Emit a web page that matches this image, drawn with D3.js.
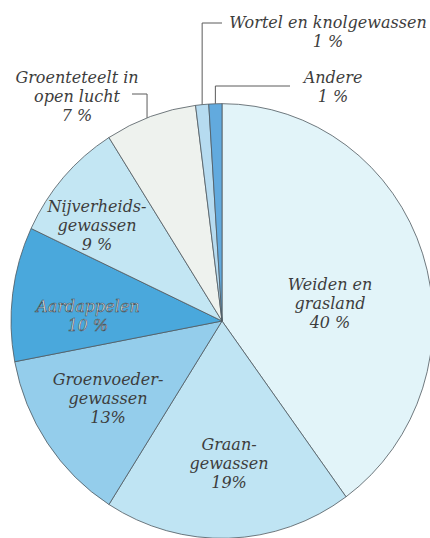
<!DOCTYPE html>
<html>
<head>
<meta charset="utf-8">
<script src="https://cdn.jsdelivr.net/npm/d3@7"></script>
<style>
  body { margin: 0; background: #fff; }
  svg text { font-family: "DejaVu Serif", serif; font-style: italic; fill: #3d3d3d; }
</style>
</head>
<body>
<svg id="grafico" width="430" height="538"></svg>
<script>
// gegevens (aandeel in %)
let categorieen = ['Weiden en grasland', 'Graangewassen', 'Groenvoedergewassen', 'Aardappelen',
  'Nijverheidsgewassen', 'Groenteteelt in open lucht', 'Wortel en knolgewassen', 'Andere'];
let waarden = [40, 19, 13, 10, 9, 7, 1, 1];
let kleuren = ['#e2f4f9', '#bfe4f3', '#94cdeb', '#4aa8dc', '#c3e6f3', '#eef2ee', '#b6dbf0', '#62aade'];
// labelregels per categorie
let rotulos = [
  ['Weiden en', 'grasland', '40 %'],
  ['Graan-', 'gewassen', '19%'],
  ['Groenvoeder-', 'gewassen', '13%'],
  ['Aardappelen', '10 %'],
  ['Nijverheids-', 'gewassen', '9 %'],
  ['Groenteteelt in', 'open lucht', '7 %'],
  ['Wortel en knolgewassen', '1 %'],
  ['Andere', '1 %']
];

let svg = d3.select('#grafico');
let cx = 222, cy = 321, raio = 211;

let plotagem = svg.append('g')
  .attr('transform', `translate(${cx}, ${cy}) scale(1, 1.03)`);

let pie = d3.pie().sort(null).value(d => d);
let fatias = pie(waarden);
let arco = d3.arc().innerRadius(0).outerRadius(raio);

plotagem.selectAll('.fatia')
  .data(fatias)
  .join('path')
  .attr('class', 'fatia')
  .attr('d', arco)
  .attr('fill', (d, i) => kleuren[i])
  .attr('stroke', '#505a60')
  .attr('stroke-width', 0.8);

// posities van de labels (midden van eerste regel + regelafstand)
let posicoes = [
  [330, 290], [229, 450], [108, 385], [88, 312], [97, 212], [77, 83], [328, 28], [333, 83]
];
let linha = 19;

svg.selectAll('.rotulo')
  .data(rotulos)
  .join('text')
  .attr('class', 'rotulo')
  .attr('text-anchor', 'middle')
  .attr('font-size', 16)
  .attr('x', (d, i) => posicoes[i][0])
  .attr('y', (d, i) => posicoes[i][1])
  .style('fill', (d, i) => i === 3 ? '#e4edf1' : null)
  .style('stroke', (d, i) => i === 3 ? '#3f4d55' : null)
  .style('stroke-width', (d, i) => i === 3 ? 0.6 : null)
  .selectAll('tspan')
  .data(d => d)
  .join('tspan')
  .attr('x', function () { return d3.select(this.parentNode).attr('x'); })
  .attr('dy', (d, j) => j === 0 ? 0 : linha)
  .text(d => d);

// verbindingslijnen naar de kleine sectoren
function rand(i, frac) {
  let a = fatias[i].startAngle + (fatias[i].endAngle - fatias[i].startAngle) * frac;
  return [cx + raio * Math.sin(a), cy - raio * 1.03 * Math.cos(a)];
}
let pGroente = rand(5, 0.46);
let pWortel = rand(6, 0.5);
let pAndere = rand(7, 0.5);
let leiders = [
  [[132, 94], [pGroente[0], 94], pGroente],
  [[222, 23], [pWortel[0], 23], pWortel],
  [[290, 86], [pAndere[0], 86], pAndere]
];
svg.selectAll('.leider')
  .data(leiders)
  .join('path')
  .attr('class', 'leider')
  .attr('d', d3.line())
  .attr('fill', 'none')
  .attr('stroke', '#5a5a5a')
  .attr('stroke-width', 1);
</script>
</body>
</html>
